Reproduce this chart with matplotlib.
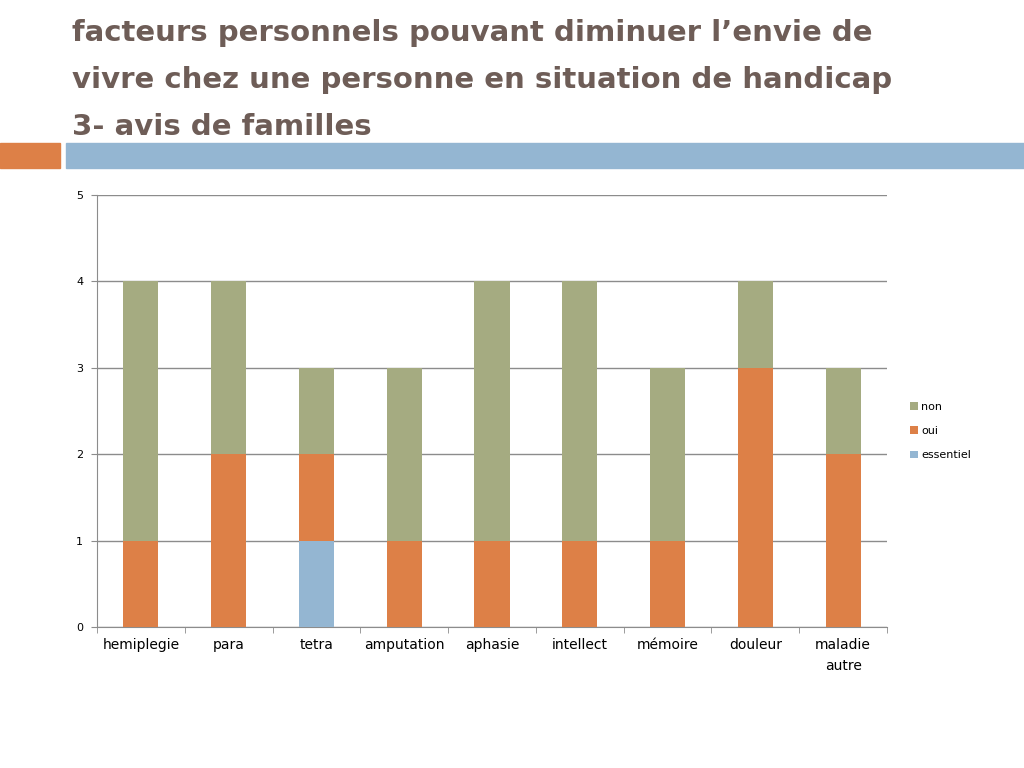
import matplotlib
matplotlib.use("Agg")
import matplotlib.pyplot as plt
import matplotlib.patches as mpatches
import numpy as np

categories = ["hemiplegie", "para", "tetra", "amputation", "aphasie",
              "intellect", "mémoire", "douleur", "maladie\nautre"]
essentiel = [0, 0, 1, 0, 0, 0, 0, 0, 0]
oui = [1, 2, 1, 1, 1, 1, 1, 3, 2]
non = [3, 2, 1, 2, 3, 3, 2, 1, 1]

c_ess = "#94B6D2"
c_oui = "#DD8047"
c_non = "#A5AB81"
title_col = "#6E5D57"

fig = plt.figure(figsize=(10.24, 7.68), dpi=100)

# title
title_lines = ["facteurs personnels pouvant diminuer l\u2019envie de",
               "vivre chez une personne en situation de handicap",
               "3- avis de familles"]
for i, line in enumerate(title_lines):
    fig.text(72 / 1024, 1 - (33 + i * 47) / 768, line, fontsize=21,
             fontweight="bold", color=title_col, va="center", ha="left",
             family=["DejaVu Sans"])

# decorative bands
fig.patches.append(mpatches.Rectangle((0, 1 - 168 / 768), 60 / 1024, 25 / 768,
                                      transform=fig.transFigure, color=c_oui))
fig.patches.append(mpatches.Rectangle((66 / 1024, 1 - 168 / 768), 958 / 1024, 25 / 768,
                                      transform=fig.transFigure, color=c_ess))

ax = fig.add_axes([97 / 1024, 1 - 627 / 768, 790 / 1024, 432 / 768])
x = np.arange(len(categories))
ess = np.array(essentiel)
o = np.array(oui)
n = np.array(non)
w = 0.4
ax.bar(x, ess, w, color=c_ess, label="essentiel", zorder=3)
ax.bar(x, o, w, bottom=ess, color=c_oui, label="oui", zorder=3)
ax.bar(x, n, w, bottom=ess + o, color=c_non, label="non", zorder=3)

ax.set_xlim(-0.5, len(categories) - 0.5)
ax.set_ylim(0, 5)
ax.set_yticks(range(6))
ax.yaxis.grid(True, color="#8C8C8C", linewidth=1, zorder=0)
ax.set_axisbelow(True)
ax.set_xticks(x)
ax.set_xticklabels(categories, fontsize=10, linespacing=1.6)
ax.set_xticks(np.arange(-0.5, len(categories)), minor=True)
ax.tick_params(axis="x", which="major", length=0, pad=8)
ax.tick_params(axis="x", which="minor", length=4, color="#8C8C8C")
ax.tick_params(axis="y", length=4, color="#8C8C8C", labelsize=8, pad=6)
for s in ["top", "right"]:
    ax.spines[s].set_visible(False)
for s in ["left", "bottom"]:
    ax.spines[s].set_color("#8C8C8C")

h, l = ax.get_legend_handles_labels()
fig.legend(h[::-1], l[::-1], loc="center left", bbox_to_anchor=(900 / 1024, 1 - 431 / 768),
           frameon=False, fontsize=8, handlelength=0.7, handleheight=0.7,
           handletextpad=0.3, labelspacing=1.3)

fig.savefig("out.png", dpi=100)
